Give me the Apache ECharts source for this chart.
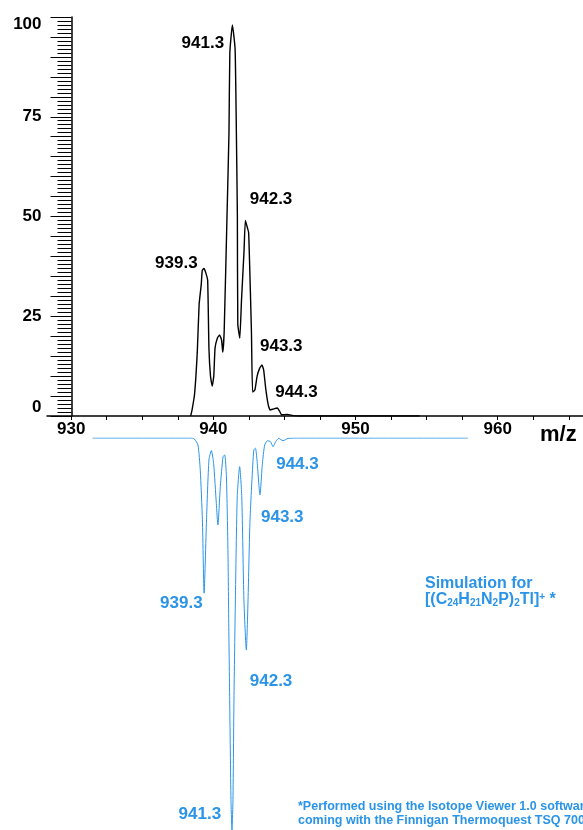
<!DOCTYPE html>
<html>
<head>
<meta charset="utf-8">
<script src="https://cdn.jsdelivr.net/npm/echarts@6/dist/echarts.min.js"></script>
<style>
  html, body { margin: 0; padding: 0; background: #fff; }
  #main { width: 583px; height: 830px; }
</style>
</head>
<body>
<div id="main"></div>
<script>
// --- data ---
// measured spectrum: [m/z, relative intensity %]
var measured = [
  [938.4, 0], [938.5, 1.5], [938.68, 5.5], [938.87, 16], [939.0, 28], [939.15, 33],
  [939.22, 36.5], [939.34, 37], [939.46, 36], [939.6, 34], [939.69, 17], [939.8, 10],
  [939.92, 7.5], [940.03, 10], [940.12, 17], [940.28, 19.5], [940.44, 20.3], [940.58, 19],
  [940.66, 16], [940.76, 21], [940.96, 50], [941.1, 71], [941.16, 91], [941.34, 98],
  [941.53, 92], [941.62, 71], [941.69, 50], [941.72, 23], [941.86, 19.5], [941.98, 29],
  [942.16, 41.5], [942.25, 49], [942.37, 47.5], [942.48, 46], [942.56, 37], [942.68, 21],
  [942.76, 6], [942.92, 6.5], [943.08, 10], [943.26, 12], [943.42, 12.8], [943.54, 11.5],
  [943.68, 7], [943.85, 3], [944.0, 1.5], [944.25, 1.8], [944.5, 2], [944.66, 1.2],
  [944.8, 0.3], [945.2, 0.4], [945.6, 0.1], [946, 0], [954.5, 0]
];
// simulated pattern: [m/z, relative intensity %] (drawn downwards)
var simulated = [
  [931.5, 0], [938.5, 0], [938.68, 0.3], [938.92, 1.8], [939.08, 8.2], [939.23, 20.9],
  [939.35, 39.6], [939.52, 20.9], [939.69, 5.6], [939.86, 3.2], [940.02, 6.5], [940.21, 16.7],
  [940.32, 22.2], [940.49, 12.4], [940.68, 4.8], [940.8, 4.3], [940.92, 9.9], [941.03, 29.3],
  [941.08, 46.4], [941.15, 66.8], [941.24, 92.3], [941.31, 100], [941.38, 92.3], [941.45, 66.8],
  [941.55, 41.3], [941.68, 15], [941.85, 7.3], [942.0, 15], [942.15, 41.3], [942.32, 54.1],
  [942.44, 41.3], [942.58, 20.9], [942.84, 3.1], [942.96, 2.6], [943.07, 5.6], [943.28, 14.5],
  [943.45, 6.5], [943.61, 1.8], [943.8, 0.7], [944.01, 0.9], [944.2, 2.2], [944.39, 0.9],
  [944.6, 0.1], [944.9, 0.7], [945.25, 0.1], [946, 0], [957.9, 0]
];
var peakLabels = ['939.3', '941.3', '942.3', '943.3', '944.3'];
var measuredPeakInt = [37, 98, 49, 12.6, 2];
var simulatedPeakInt = [39.6, 100, 54.1, 14.5, 2.2];
var xTickValues = [930, 932.5, 935, 937.5, 940, 942.5, 945, 947.5, 950, 952.5, 955, 957.5, 960, 962.5, 965];
var xLabelValues = [930, 940, 950, 960];

var BLUE = '#2b94e6';
var FONT = '"Liberation Sans", Arial, sans-serif';
var topOffsets = [[-27, -5], [-29, 18], [25, -21], [21, -19], [22, -16]];
var simOffsets = [[-22, 10], [-32, -16], [25, 31], [22, 22], [23, 18]];

var myChart = echarts.init(document.getElementById('main'));

function labelPoints(values, offsets) {
  return peakLabels.map(function (t, i) {
    return { name: t, value: [parseFloat(t), values[i]], label: { offset: offsets[i] } };
  });
}

myChart.setOption({
  animation: false,
  grid: [
    { left: 47, right: 0, top: 17, bottom: 414 },
    { left: 47, right: 0, top: 438, bottom: 0 }
  ],
  xAxis: [
    {
      gridIndex: 0, type: 'value', min: 928.3, max: 966,
      axisLine: { onZero: false, lineStyle: { color: '#000', width: 1.5 } },
      axisTick: { show: true, length: 4, customValues: xTickValues, lineStyle: { color: '#000' } },
      axisLabel: {
        customValues: xLabelValues, margin: 5, color: '#000',
        fontSize: 17, fontWeight: 'bold', fontFamily: FONT
      },
      splitLine: { show: false }
    },
    { gridIndex: 1, type: 'value', min: 928.3, max: 966, show: false }
  ],
  yAxis: [
    {
      gridIndex: 0, type: 'value', min: 0, max: 100, interval: 5,
      position: 'left', offset: -24.5,
      axisLine: { show: true, onZero: false, lineStyle: { color: '#000', width: 1.5 } },
      axisTick: { show: true, length: 21, lineStyle: { color: '#000', width: 1 } },
      minorTick: { show: true, splitNumber: 5, length: 14, lineStyle: { color: '#000', width: 1 } },
      axisLabel: {
        margin: 30, color: '#000', fontSize: 17, fontWeight: 'bold', fontFamily: FONT,
        formatter: function (v) {
          if (v === 100) return '{t|100}';
          if (v === 0) return '{b|0}';
          return v % 25 === 0 ? String(v) : '';
        },
        rich: {
          t: { padding: [14, 0, 0, 0], fontSize: 17, fontWeight: 'bold', fontFamily: FONT, color: '#000' },
          b: { padding: [0, 0, 18, 0], fontSize: 17, fontWeight: 'bold', fontFamily: FONT, color: '#000' }
        }
      },
      splitLine: { show: false }
    },
    { gridIndex: 1, type: 'value', min: 0, max: 100, inverse: true, show: false }
  ],
  series: [
    {
      type: 'line', xAxisIndex: 0, yAxisIndex: 0, data: measured,
      showSymbol: false, silent: true, smooth: 0.15,
      lineStyle: { color: '#000', width: 1.4 }
    },
    {
      type: 'line', xAxisIndex: 1, yAxisIndex: 1, data: simulated,
      showSymbol: false, silent: true, smooth: 0.2,
      lineStyle: { color: BLUE, width: 1 }
    },
    {
      type: 'scatter', xAxisIndex: 0, yAxisIndex: 0, symbolSize: 0, silent: true,
      itemStyle: { opacity: 1 },
      data: labelPoints(measuredPeakInt, topOffsets),
      label: {
        show: true, position: 'inside', formatter: '{b}',
        color: '#000', fontSize: 17, fontWeight: 'bold', fontFamily: FONT
      }
    },
    {
      type: 'scatter', xAxisIndex: 1, yAxisIndex: 1, symbolSize: 0, silent: true,
      itemStyle: { opacity: 1 },
      data: labelPoints(simulatedPeakInt, simOffsets),
      label: {
        show: true, position: 'inside', formatter: '{b}',
        color: BLUE, fontSize: 17, fontWeight: 'bold', fontFamily: FONT
      }
    }
  ],
  graphic: [
    {
      type: 'text', left: 540, top: 424,
      style: { text: 'm/z', fill: '#000', font: 'bold 22px ' + FONT }
    },
    {
      type: 'text', left: 425, top: 576,
      style: {
        text: 'Simulation for\n[(C{s|24}H{s|21}N{s|2}P){s|2}Tl]{p|+} *',
        fill: BLUE, font: 'bold 16px ' + FONT, lineHeight: 16,
        rich: {
          s: { fontSize: 10, fontWeight: 'bold', fontFamily: FONT, fill: BLUE, verticalAlign: 'bottom', lineHeight: 16 },
          p: { fontSize: 10, fontWeight: 'bold', fontFamily: FONT, fill: BLUE, verticalAlign: 'top', lineHeight: 16 }
        }
      }
    },
    {
      type: 'text', left: 298, top: 800,
      style: {
        text: '*Performed using the Isotope Viewer 1.0 software\ncoming with the Finnigan Thermoquest TSQ 7000',
        fill: BLUE, font: 'bold 12.5px ' + FONT, lineHeight: 14
      }
    }
  ]
});
</script>
</body>
</html>
